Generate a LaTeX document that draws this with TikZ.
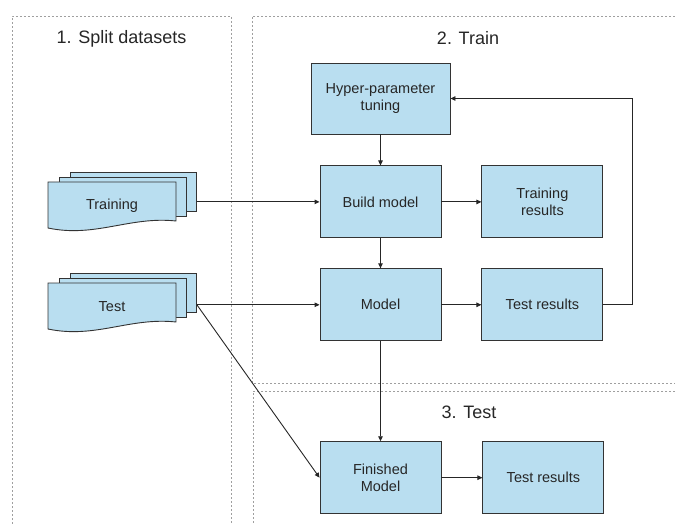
\documentclass[tikz,border=0pt]{standalone}
\usepackage{fontspec}
\setmainfont{Liberation Sans}
\usetikzlibrary{arrows.meta, positioning}
\definecolor{boxblue}{RGB}{185,222,240}
\tikzset{
    box/.style = {
      draw=black!80, fill=boxblue, line width=0.9pt, align=center,
      minimum width=121pt, minimum height=72pt, inner sep=2pt,
      font=\fontsize{14.5}{17}\selectfont, text=black!85,
    },
    page/.style = {draw=black!80, fill=boxblue, line width=0.9pt, inner sep=0},
    doc text/.style = {font=\fontsize{14.5}{17}\selectfont, text=black!85},
    link/.style = {line width=0.9pt, black!85, arrows={-Triangle[length=5pt, width=4.5pt]}},
    region/.style = {gray!75, line width=0.8pt, dash pattern=on 2pt off 2pt},
    title/.style = {font=\fontsize{18}{20}\selectfont, text=black!85},
}
\newcommand{\docstack}[3]{%
  %% Draw a stack of three pages:
  %% Arguments:
  %%    1. Name prefix
  %%    2. Top of the back page
  %%    3. Label
  \begin{scope}[shift={(0,#2)}]
    \node [page, anchor=north west, minimum width=126pt, minimum height=39pt]
          (#1_back) at (70,0) {};
    \node [page, anchor=north west, minimum width=127pt, minimum height=39pt]
          (#1_middle) at (59,5) {};
    \draw [page] (48,10) -- (176,10) -- (176,49)
      .. controls (130,44) and (95,66) .. (48,56) -- cycle;
    \node [doc text] (#1) at (112,34) {#3};
  \end{scope}
}

\begin{document}
\begin{tikzpicture}[x=1pt, y=-1pt]
    \useasboundingbox (0,0) rectangle (675,524);

    %% Dashed areas for the three stages
    \draw [region] (12,524) -- (12,16) -- (231,16) -- (231,524);
    \draw [region] (675,16) -- (252,16) -- (252,383) -- (675,383);
    \draw [region] (675,391) -- (253,391) -- (253,524);
    \node [title] (split_title) at (121.5,39) {1. Split datasets};
    \node [title] (train_title) at (468,38) {2. Train};
    \node [title] (test_title) at (469,412) {3. Test};

    %% The two data sets
    \docstack{training}{172}{Training}
    \docstack{test}{273}{Test}

    %% Training loop
    \node [box, minimum width=139pt, minimum height=71pt]
         (tuning) at (380.5,98.5) {Hyper-parameter\\tuning};
    \node [box, below=31pt of tuning] (build) {Build model};
    \node [box, below=30pt of build] (model) {Model};
    \node [box, right=40pt of build] (train_results) {Training\\results};
    \node [box, right=40pt of model] (model_results) {Test results};

    %% Final test
    \node [box, below=100pt of model] (finished) {Finished\\Model};
    \node [box, right=41pt of finished] (final_results) {Test results};

    %% Connect everything
    \draw [link] (training_back.east |- build.west) -- (build.west);
    \draw [link] (test_back.east |- model.west) -- (model.west);
    \draw [link] (test_back.east |- model.west) -- (finished.west);
    \draw [link] (tuning) -- (build);
    \draw [link] (build) -- (model);
    \draw [link] (model) -- (finished);
    \draw [link] (build) -- (train_results);
    \draw [link] (model) -- (model_results);
    \draw [link] (finished) -- (final_results);
    \draw [link] (model_results.east) -- ++(29pt,0) |- (tuning.east);
\end{tikzpicture}
\end{document}
